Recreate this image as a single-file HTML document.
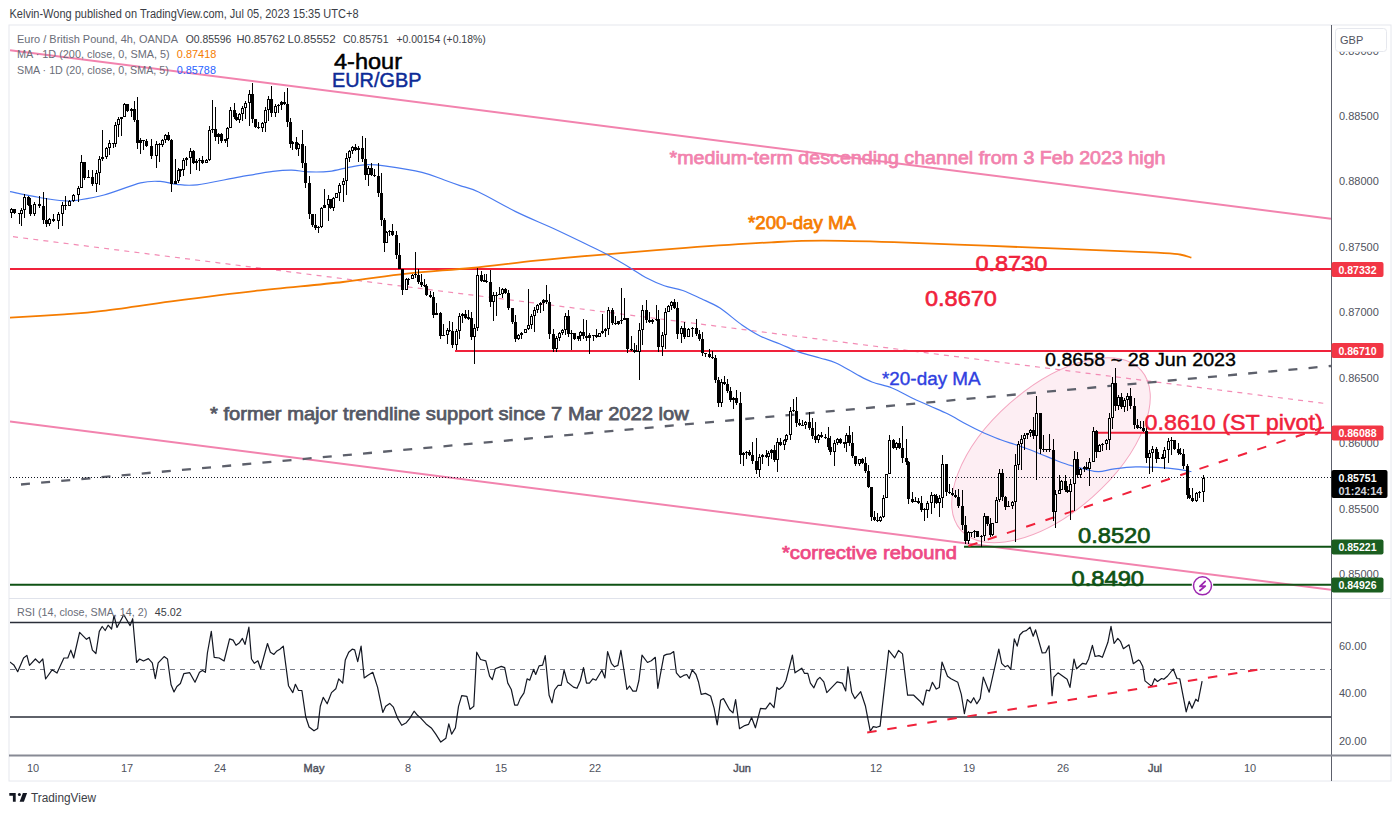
<!DOCTYPE html><html><head><meta charset="utf-8"><style>html,body{margin:0;padding:0;background:#fff;width:1400px;height:814px;overflow:hidden}svg{display:block}text{font-family:"Liberation Sans",sans-serif}</style></head><body>
<svg width="1400" height="814" viewBox="0 0 1400 814">
<rect width="1400" height="814" fill="#fff"/>
<text x="9.5" y="17.5" font-size="12" fill="#3a3d45" font-weight="normal" text-anchor="start" textLength="349" lengthAdjust="spacingAndGlyphs">Kelvin-Wong published on TradingView.com, Jul 05, 2023 15:35 UTC+8</text>
<rect x="9" y="25" width="1382" height="756" fill="none" stroke="#e6e8ee" stroke-width="1"/>
<line x1="9" y1="598.5" x2="1391" y2="598.5" stroke="#e0e3eb" stroke-width="1.2"/>
<defs><clipPath id="mp"><rect x="10" y="26" width="1321" height="571"/></clipPath><clipPath id="rp"><rect x="10" y="599" width="1321" height="156"/></clipPath></defs>
<g clip-path="url(#mp)">
<ellipse cx="1051" cy="450.3" rx="120.5" ry="62.5" transform="rotate(-41.5 1051 450.3)" fill="#fdeef3" stroke="#f4a6c0" stroke-width="1"/>
<line x1="10" y1="50.2" x2="1331" y2="218.8" stroke="#f283ae" stroke-width="2"/>
<line x1="10" y1="421.4" x2="1331" y2="589.8" stroke="#f283ae" stroke-width="2"/>
<line x1="13" y1="236.7" x2="1326" y2="403.6" stroke="#f38cb5" stroke-width="1.2" stroke-dasharray="5,5.2"/>
<line x1="21" y1="484.5" x2="1331" y2="366" stroke="#5d606b" stroke-width="2.3" stroke-dasharray="9,11.2"/>
<line x1="10" y1="269" x2="1331" y2="269" stroke="#f0223b" stroke-width="2"/>
<line x1="455" y1="350.9" x2="1331" y2="350.9" stroke="#f0223b" stroke-width="2"/>
<line x1="1096" y1="432.8" x2="1331" y2="432.8" stroke="#f0223b" stroke-width="2"/>
<line x1="964" y1="546.8" x2="1331" y2="546.8" stroke="#0f5214" stroke-width="2"/>
<line x1="10" y1="584.8" x2="1331" y2="584.8" stroke="#0f5214" stroke-width="2"/>
<line x1="10" y1="477.5" x2="1331" y2="477.5" stroke="#131722" stroke-width="1" stroke-dasharray="1,2"/>
<line x1="968.4" y1="546" x2="1324" y2="427.3" stroke="#f0223b" stroke-width="2" stroke-dasharray="9.5,10.8"/>
<path d="M9.4,317.7C18.6,317.1 48.7,315.4 64.3,314.3C79.9,313.2 85.1,313.0 102.9,310.9C120.8,308.8 145.7,304.8 171.4,301.4C197.1,298.0 228.4,293.9 257.0,290.7C285.6,287.5 318.0,284.9 343.0,282.0C368.0,279.1 385.6,275.9 407.0,273.6C428.4,271.3 449.9,270.1 471.4,268.0C492.8,265.9 514.3,262.9 535.7,260.7C557.1,258.5 575.0,256.9 600.0,254.8C625.0,252.7 657.1,250.0 685.7,247.9C714.3,245.8 748.5,243.5 771.4,242.3C794.3,241.1 801.5,240.6 822.9,240.6C844.3,240.6 872.9,241.5 900.0,242.3C927.1,243.2 957.1,244.6 985.7,245.7C1014.3,246.8 1042.9,247.9 1071.4,249.1C1100.0,250.2 1138.9,251.7 1157.0,252.6C1175.1,253.5 1174.3,253.7 1180.0,254.5C1185.7,255.3 1189.5,257.2 1191.4,257.7" fill="none" stroke="#f57c00" stroke-width="1.8"/>
<path d="M10.0,191.6C14.9,192.6 30.1,195.9 39.3,197.5C48.4,199.1 58.4,200.5 64.9,200.9C71.5,201.3 72.1,201.0 78.6,200.0C85.1,199.0 93.7,197.8 104.0,195.0C114.3,192.2 131.2,185.2 140.6,182.9C150.0,180.6 154.3,181.2 160.3,181.4C166.3,181.6 170.5,183.7 176.6,184.3C182.7,184.9 186.5,186.0 197.1,184.8C207.7,183.6 227.4,179.1 240.0,176.9C252.6,174.7 264.3,172.5 272.9,171.4C281.5,170.3 285.7,170.0 291.7,170.1C297.7,170.2 302.6,171.7 308.9,171.9C315.2,172.1 322.5,172.2 329.4,171.4C336.2,170.6 343.7,168.2 350.0,167.1C356.3,166.0 361.5,164.8 367.2,164.6C372.9,164.4 375.2,164.5 384.3,165.8C393.4,167.1 412.0,169.9 422.0,172.3C432.0,174.7 438.0,177.8 444.3,180.0C450.6,182.2 454.3,183.6 460.0,185.6C465.7,187.6 469.3,187.7 478.6,192.0C487.9,196.3 503.3,205.5 515.7,211.6C528.1,217.7 540.5,222.6 552.9,228.3C565.3,234.0 581.0,241.7 590.0,246.0C599.0,250.3 599.9,250.6 606.7,254.3C613.5,258.0 624.3,264.3 630.8,268.2C637.3,272.1 640.1,274.6 645.7,277.5C651.3,280.4 658.1,283.6 664.3,285.8C670.5,288.0 676.6,288.3 682.8,290.5C689.0,292.7 695.2,295.9 701.4,298.8C707.6,301.7 713.2,303.7 720.0,308.1C726.8,312.5 735.3,320.4 742.0,325.0C748.7,329.6 753.7,332.8 760.0,336.0C766.3,339.2 773.3,341.3 780.0,344.0C786.7,346.7 793.3,350.1 800.0,352.4C806.7,354.7 814.0,356.2 820.0,358.0C826.0,359.8 830.0,360.3 836.0,363.0C842.0,365.7 850.0,370.8 856.0,374.0C862.0,377.2 866.0,379.7 872.0,382.0C878.0,384.3 885.3,385.3 892.0,388.0C898.7,390.7 905.7,395.0 912.0,398.0C918.3,401.0 924.0,403.3 930.0,406.0C936.0,408.7 942.0,411.0 948.0,414.0C954.0,417.0 960.0,420.8 966.0,424.0C972.0,427.2 978.3,430.4 984.0,433.0C989.7,435.6 995.0,437.6 1000.0,439.5C1005.0,441.4 1009.5,442.7 1014.3,444.3C1019.1,445.9 1023.8,447.5 1028.6,449.3C1033.4,451.1 1038.2,453.1 1042.9,455.0C1047.6,456.9 1052.2,458.9 1057.0,460.7C1061.8,462.5 1066.6,464.3 1071.4,465.7C1076.2,467.1 1081.2,468.3 1085.7,469.3C1090.2,470.3 1093.8,471.8 1098.6,471.7C1103.4,471.6 1108.1,469.7 1114.3,468.9C1120.5,468.1 1128.6,467.1 1135.7,466.9C1142.8,466.6 1149.8,467.0 1157.0,467.4C1164.2,467.8 1172.9,468.6 1178.6,469.3C1184.3,470.0 1189.3,471.3 1191.4,471.7" fill="none" stroke="#4a7bf0" stroke-width="1.2"/>
<path d="M11.5,207.8V217.6M14.5,208.7V213.7M19.5,212.7V223.5M21.5,207.8V225.5M24.5,194.0V217.6M28.5,196.0V205.8M30.5,198.0V215.6M34.5,201.9V215.6M39.5,196.0V207.8M43.5,192.0V223.5M46.5,198.0V227.4M49.5,217.6V226.4M53.5,213.7V221.5M58.5,211.7V229.4M62.5,201.9V225.5M65.5,196.0V209.7M69.5,199.9V205.8M73.5,194.0V201.9M78.5,186.0V202.0M81.5,154.7V188.0M84.5,161.6V180.2M88.5,170.4V178.3M92.5,170.4V186.1M96.5,170.4V192.0M99.5,155.7V185.2M102.5,130.0V160.6M106.5,146.8V158.6M109.5,140.0V154.7M113.5,142.9V147.8M115.5,122.3V146.8M118.5,117.0V137.0M121.5,117.3V136.0M124.5,102.6V117.3M127.5,103.6V112.4M131.5,107.5V117.3M134.5,100.6V122.3M137.5,96.7V148.8M140.5,138.0V153.7M143.5,140.0V150.0M146.5,139.0V146.8M151.5,139.0V158.6M156.5,140.6V168.0M159.5,142.6V162.2M162.5,138.6V146.5M165.5,133.7V142.6M168.5,131.7V140.6M171.5,138.6V191.7M175.5,159.0V183.8M178.5,168.0V182.8M180.5,169.1V177.0M183.5,158.0V176.0M186.5,157.3V166.1M190.5,147.5V174.0M193.5,150.4V164.2M196.5,159.3V170.1M199.5,158.3V171.1M202.5,156.3V164.2M206.5,159.0V163.0M209.5,125.8V161.0M212.5,100.0V132.7M215.5,107.0V140.6M218.5,132.7V143.5M221.5,132.7V142.6M225.5,138.6V142.6M227.5,126.8V146.5M230.5,107.0V127.8M234.5,103.0V119.0M236.5,113.0V121.0M239.5,113.0V122.9M242.5,106.0V121.0M245.5,101.0V119.0M249.5,89.5V125.8M252.5,82.6V122.9M255.5,119.0V127.8M258.5,121.9V128.8M262.5,122.0V131.7M265.5,107.2V131.7M268.5,96.4V121.0M271.5,85.6V117.0M275.5,104.2V117.0M278.5,104.2V113.0M281.5,101.3V110.1M284.5,92.4V105.0M287.5,87.5V126.8M290.5,118.0V147.5M292.5,140.6V150.4M296.5,136.7V150.4M298.5,142.6V156.3M302.5,129.8V168.0M305.5,145.5V187.8M309.5,176.0V219.0M312.5,214.0V227.0M315.5,214.0V230.0M318.5,226.0V233.0M321.5,206.5V228.0M324.5,188.8V207.5M328.5,194.7V221.0M330.5,198.6V209.4M333.5,196.7V211.4M336.5,192.7V197.6M339.5,183.0V200.6M343.5,178.0V201.6M346.5,153.4V194.7M349.5,149.5V162.0M352.5,145.5V154.4M355.5,143.6V150.5M358.5,145.5V162.0M362.5,135.7V162.0M365.5,137.7V180.0M368.5,166.0V185.8M371.5,163.2V176.0M374.5,169.1V177.0M378.5,163.0V196.7M381.5,173.0V226.0M384.5,218.0V251.7M386.5,231.0V242.8M389.5,230.0V236.0M392.5,224.0V236.0M396.5,231.0V258.6M399.5,243.0V269.4M402.5,268.5V295.0M406.5,278.0V290.0M408.5,278.3V285.2M412.5,274.0V279.0M415.5,251.8V278.0M418.5,268.5V284.0M421.5,274.0V287.0M424.5,279.3V287.2M426.5,284.0V296.0M430.5,291.1V298.0M433.5,292.0V317.6M436.5,302.9V314.7M440.5,311.7V339.0M443.5,323.5V336.3M447.5,327.5V344.0M449.5,320.6V332.4M452.5,321.6V348.0M456.5,328.5V350.0M459.5,312.7V339.0M462.5,312.7V322.6M465.5,309.8V318.6M468.5,309.8V319.6M471.5,311.7V340.0M474.5,323.5V363.8M477.5,267.5V331.4M481.5,271.4V282.0M484.5,274.4V282.3M486.5,274.4V283.2M490.5,269.5V306.8M493.5,292.0V320.6M496.5,292.0V315.7M499.5,287.0V295.0M502.5,288.2V298.0M505.5,288.2V294.0M508.5,290.0V309.8M512.5,307.8V323.5M515.5,314.7V342.0M518.5,334.3V340.2M521.5,332.4V339.3M525.5,328.5V333.4M528.5,289.0V330.4M531.5,313.7V328.5M534.5,306.8V332.4M537.5,303.9V312.7M540.5,301.9V312.7M543.5,299.0V310.8M546.5,285.0V304.0M549.5,294.0V339.0M553.5,329.4V352.0M556.5,336.3V352.0M559.5,331.7V340.6M562.5,328.8V334.7M565.5,313.0V334.7M568.5,310.0V336.7M571.5,329.8V350.4M574.5,332.7V339.6M578.5,335.7V340.6M580.5,330.8V340.6M583.5,319.0V338.6M586.5,320.0V340.6M589.5,332.7V354.3M593.5,334.7V340.6M596.5,328.8V337.6M599.5,332.7V336.7M602.5,314.0V333.7M605.5,327.8V336.7M608.5,307.0V334.7M612.5,308.0V325.0M615.5,316.0V324.9M618.5,320.9V324.9M621.5,287.5V323.9M624.5,298.3V320.0M627.5,318.0V353.4M631.5,335.7V351.4M634.5,342.6V353.4M636.5,344.5V352.4M639.5,322.9V379.9M642.5,305.0V344.5M646.5,300.0V323.0M649.5,312.1V322.9M652.5,319.0V323.9M656.5,305.0V321.0M658.5,310.0V352.4M662.5,331.7V356.0M665.5,308.0V348.5M668.5,305.2V312.1M671.5,301.0V310.0M674.5,299.3V309.0M677.5,302.3V338.6M681.5,325.8V342.6M684.5,321.9V338.6M688.5,327.8V336.7M692.5,326.8V336.7M696.5,319.0V335.7M699.5,329.8V340.6M702.5,331.8V356.3M705.5,353.4V357.3M709.5,348.5V358.3M712.5,350.5V359.3M715.5,355.4V383.0M718.5,377.0V406.5M721.5,379.0V406.5M724.5,376.0V384.9M727.5,379.0V392.7M730.5,386.8V401.6M733.5,396.7V409.4M736.5,389.8V404.5M740.5,391.7V463.5M743.5,451.7V465.5M746.5,450.7V458.6M749.5,449.7V455.6M752.5,441.9V463.5M756.5,438.0V474.3M759.5,453.7V477.0M762.5,453.7V463.5M766.5,449.7V457.6M768.5,450.7V466.4M771.5,448.7V458.6M774.5,444.8V461.5M777.5,438.0V472.3M780.5,438.0V445.8M784.5,438.9V449.7M786.5,434.0V441.9M790.5,406.5V440.0M793.5,398.6V412.4M796.5,396.7V427.0M799.5,419.3V426.1M802.5,420.2V426.1M805.5,421.2V429.1M809.5,412.4V430.0M812.5,418.3V438.9M815.5,422.2V442.9M818.5,434.0V442.9M821.5,432.0V437.9M825.5,434.0V438.9M828.5,427.0V449.7M830.5,436.0V454.6M834.5,440.0V465.5M837.5,437.9V444.8M840.5,437.9V443.8M844.5,441.9V447.8M846.5,433.0V451.7M849.5,426.0V445.8M852.5,432.0V457.6M855.5,455.6V465.5M859.5,458.6V465.5M862.5,457.8V463.7M865.5,456.8V472.6M868.5,464.7V488.3M871.5,487.3V520.7M874.5,510.9V520.7M877.5,512.9V521.7M880.5,515.8V521.7M883.5,495.0V517.8M886.5,473.5V498.0M889.5,435.0V473.5M893.5,439.0V449.0M896.5,442.1V450.0M899.5,438.2V449.0M902.5,426.4V462.7M906.5,439.0V464.7M908.5,460.8V504.0M912.5,492.2V503.0M915.5,497.1V502.0M918.5,498.1V504.0M921.5,496.0V511.9M924.5,508.0V520.7M927.5,501.1V517.8M931.5,492.0V513.8M934.5,494.2V507.9M936.5,494.2V504.0M939.5,495.0V516.8M942.5,454.9V508.0M946.5,463.7V496.0M949.5,484.3V494.2M952.5,488.3V496.1M955.5,490.2V498.1M958.5,489.0V508.0M962.5,490.0V529.6M965.5,515.8V544.3M968.5,530.5V544.3M971.5,531.5V537.4M974.5,529.6V538.4M977.5,530.5V537.4M981.5,534.5V547.0M984.5,512.8V541.4M987.5,515.8V525.6M990.5,517.8V537.4M992.5,522.7V536.4M996.5,497.0V523.0M999.5,468.6V502.0M1002.5,468.6V501.0M1005.5,495.6V510.4M1008.5,500.5V506.7M1012.5,501.2V508.5M1015.5,454.3V542.3M1018.5,440.6V470.0M1021.5,434.7V470.0M1024.5,432.7V450.4M1027.5,432.7V438.6M1030.5,428.8V436.7M1033.5,417.0V438.6M1036.5,396.4V479.7M1040.5,413.0V454.3M1043.5,434.7V452.4M1046.5,448.5V452.4M1049.5,433.7V452.4M1053.5,438.6V521.4M1055.5,489.5V527.6M1059.5,474.7V494.4M1061.5,479.7V489.5M1065.5,474.7V492.0M1067.5,485.8V493.2M1070.5,479.0V519.6M1074.5,451.4V511.4M1077.5,452.4V478.0M1080.5,468.1V478.0M1084.5,466.1V472.0M1086.5,462.2V470.0M1089.5,458.3V485.8M1093.5,426.8V462.2M1096.5,429.8V458.3M1099.5,443.5V452.4M1102.5,442.6V451.4M1106.5,438.6V450.4M1109.5,413.0V450.4M1112.5,376.7V428.8M1115.5,367.9V411.0M1118.5,395.4V410.0M1121.5,393.4V409.1M1124.5,398.3V412.1M1127.5,393.4V411.0M1130.5,387.5V409.0M1134.5,398.3V428.8M1137.5,419.0V428.8M1140.5,421.0V428.8M1143.5,421.4V431.7M1146.5,422.0V463.4M1149.5,450.0V474.4M1152.5,445.7V471.5M1156.5,447.0V463.4M1158.5,452.3V458.9M1162.5,453.8V458.2M1164.5,447.0V469.2M1168.5,438.3V463.4M1171.5,436.8V454.5M1174.5,439.8V450.0M1178.5,442.7V454.5M1180.5,447.9V454.5M1183.5,448.6V468.5M1187.5,464.0V498.7M1189.5,487.7V499.4M1192.5,488.4V502.4M1196.5,492.0V501.7M1199.5,491.3V498.0M1203.5,475.0V502.4" stroke="#000" stroke-width="1" fill="none" shape-rendering="crispEdges"/>
<path d="M10,209.0h3V212.7h-3ZM13,209.0h3V213.1h-3ZM18,212.9h3V214.1h-3ZM20,209.9h3V214.0h-3ZM23,196.8h3V209.9h-3ZM27,196.8h3V204.6h-3ZM29,204.6h3V213.5h-3ZM33,203.5h3V213.5h-3ZM38,203.5h3V206.4h-3ZM42,206.4h3V219.7h-3ZM45,219.7h3V223.9h-3ZM48,218.7h3V223.9h-3ZM52,218.7h3V220.6h-3ZM57,213.8h3V220.6h-3ZM61,204.7h3V213.8h-3ZM64,204.7h3V205.9h-3ZM68,200.6h3V205.8h-3ZM72,194.9h3V200.6h-3ZM77,187.9h3V194.9h-3ZM80,161.6h3V187.9h-3ZM83,161.6h3V178.0h-3ZM87,177.1h3V178.3h-3ZM91,177.4h3V184.2h-3ZM95,173.0h3V184.2h-3ZM98,159.2h3V173.0h-3ZM101,156.9h3V159.2h-3ZM105,148.2h3V156.9h-3ZM108,142.9h3V148.2h-3ZM112,142.6h3V143.8h-3ZM114,125.2h3V143.5h-3ZM117,119.4h3V125.2h-3ZM120,117.3h3V119.4h-3ZM123,104.4h3V117.3h-3ZM126,104.4h3V111.3h-3ZM130,108.7h3V111.3h-3ZM133,108.7h3V119.7h-3ZM136,119.7h3V142.5h-3ZM139,140.0h3V142.5h-3ZM142,140.0h3V141.2h-3ZM145,141.2h3V145.9h-3ZM150,145.9h3V156.2h-3ZM155,143.9h3V156.2h-3ZM158,143.8h3V145.0h-3ZM161,139.5h3V145.0h-3ZM164,134.8h3V139.5h-3ZM167,134.8h3V139.5h-3ZM170,139.5h3V183.8h-3ZM174,180.8h3V183.8h-3ZM177,169.8h3V180.8h-3ZM179,169.3h3V170.5h-3ZM182,160.2h3V170.0h-3ZM185,158.4h3V160.2h-3ZM189,150.7h3V158.4h-3ZM192,150.7h3V162.5h-3ZM195,160.6h3V162.5h-3ZM198,159.6h3V160.8h-3ZM201,159.8h3V163.0h-3ZM205,159.5h3V163.0h-3ZM208,130.0h3V159.5h-3ZM211,128.8h3V130.0h-3ZM214,128.8h3V136.6h-3ZM217,134.0h3V136.6h-3ZM220,134.0h3V141.4h-3ZM224,139.1h3V141.4h-3ZM226,127.8h3V139.1h-3ZM229,109.5h3V127.8h-3ZM233,109.5h3V117.1h-3ZM235,117.1h3V120.0h-3ZM238,114.2h3V120.0h-3ZM241,107.8h3V114.2h-3ZM244,103.2h3V107.8h-3ZM248,93.9h3V103.2h-3ZM251,93.9h3V119.0h-3ZM254,119.0h3V126.7h-3ZM257,126.7h3V128.0h-3ZM261,123.2h3V128.0h-3ZM264,110.1h3V123.2h-3ZM267,99.4h3V110.1h-3ZM270,99.4h3V113.2h-3ZM274,105.7h3V113.2h-3ZM277,104.9h3V106.1h-3ZM280,102.4h3V105.3h-3ZM283,102.3h3V103.5h-3ZM286,103.5h3V122.1h-3ZM289,122.1h3V144.0h-3ZM291,141.8h3V144.0h-3ZM295,141.8h3V148.8h-3ZM297,144.2h3V148.8h-3ZM301,144.2h3V163.4h-3ZM304,163.4h3V182.7h-3ZM308,182.7h3V214.0h-3ZM311,214.0h3V225.4h-3ZM314,225.4h3V228.1h-3ZM317,226.8h3V228.1h-3ZM320,207.5h3V226.8h-3ZM323,205.3h3V207.5h-3ZM327,198.6h3V205.3h-3ZM329,198.6h3V208.1h-3ZM332,197.6h3V208.1h-3ZM335,193.3h3V197.6h-3ZM338,185.1h3V193.3h-3ZM342,180.8h3V185.1h-3ZM345,158.4h3V180.8h-3ZM348,151.0h3V158.4h-3ZM351,146.6h3V151.0h-3ZM354,146.6h3V149.7h-3ZM357,147.5h3V149.7h-3ZM361,147.5h3V158.8h-3ZM364,158.8h3V174.9h-3ZM367,168.4h3V174.9h-3ZM370,168.4h3V174.5h-3ZM373,174.5h3V176.1h-3ZM377,176.1h3V192.7h-3ZM380,192.7h3V219.6h-3ZM383,219.6h3V242.8h-3ZM385,232.4h3V242.8h-3ZM388,230.7h3V232.4h-3ZM391,230.7h3V234.6h-3ZM395,234.6h3V255.3h-3ZM398,255.3h3V268.5h-3ZM401,268.5h3V290.0h-3ZM405,279.4h3V290.0h-3ZM407,278.6h3V279.8h-3ZM411,274.6h3V279.0h-3ZM414,274.1h3V275.3h-3ZM417,274.9h3V282.1h-3ZM420,282.1h3V285.4h-3ZM423,285.2h3V286.4h-3ZM425,286.3h3V294.6h-3ZM429,294.6h3V297.2h-3ZM432,297.2h3V314.5h-3ZM435,313.3h3V314.5h-3ZM439,313.3h3V335.7h-3ZM442,334.6h3V335.8h-3ZM446,329.5h3V334.8h-3ZM448,329.5h3V331.0h-3ZM451,331.0h3V344.8h-3ZM455,331.1h3V344.8h-3ZM458,315.9h3V331.1h-3ZM461,313.9h3V315.9h-3ZM464,313.9h3V317.5h-3ZM467,317.4h3V318.6h-3ZM470,318.4h3V336.6h-3ZM473,328.3h3V336.6h-3ZM476,275.2h3V328.3h-3ZM480,275.2h3V280.7h-3ZM483,280.4h3V281.6h-3ZM485,281.1h3V282.3h-3ZM489,282.1h3V302.3h-3ZM492,295.4h3V302.3h-3ZM495,294.5h3V295.7h-3ZM498,293.8h3V295.0h-3ZM501,289.4h3V294.0h-3ZM504,289.4h3V293.3h-3ZM507,293.3h3V307.8h-3ZM511,307.8h3V321.6h-3ZM514,321.6h3V338.7h-3ZM517,335.0h3V338.7h-3ZM520,333.2h3V335.0h-3ZM524,329.1h3V333.2h-3ZM527,325.4h3V329.1h-3ZM530,315.5h3V325.4h-3ZM533,309.9h3V315.5h-3ZM536,305.0h3V309.9h-3ZM539,303.2h3V305.0h-3ZM542,300.4h3V303.2h-3ZM545,300.4h3V301.7h-3ZM548,301.7h3V333.6h-3ZM552,333.6h3V349.3h-3ZM555,338.2h3V349.3h-3ZM558,332.8h3V338.2h-3ZM561,329.5h3V332.8h-3ZM564,315.6h3V329.5h-3ZM567,315.6h3V333.5h-3ZM570,332.5h3V333.7h-3ZM573,332.7h3V338.8h-3ZM577,336.3h3V338.8h-3ZM579,332.0h3V336.3h-3ZM582,332.0h3V336.2h-3ZM585,336.2h3V338.1h-3ZM588,335.3h3V338.1h-3ZM592,334.8h3V336.0h-3ZM595,335.4h3V336.6h-3ZM598,333.2h3V336.5h-3ZM601,331.3h3V333.2h-3ZM604,328.9h3V331.3h-3ZM607,310.3h3V328.9h-3ZM611,310.3h3V323.0h-3ZM614,322.8h3V324.0h-3ZM617,321.4h3V323.8h-3ZM620,319.5h3V321.4h-3ZM623,318.0h3V319.5h-3ZM626,318.0h3V349.2h-3ZM630,348.7h3V349.9h-3ZM633,349.5h3V352.1h-3ZM635,351.2h3V352.4h-3ZM638,329.7h3V351.5h-3ZM641,309.7h3V329.7h-3ZM645,309.7h3V320.2h-3ZM648,320.2h3V321.6h-3ZM651,319.6h3V321.6h-3ZM655,318.7h3V319.9h-3ZM657,319.1h3V347.3h-3ZM661,334.6h3V347.3h-3ZM664,312.1h3V334.6h-3ZM667,306.0h3V312.1h-3ZM670,302.1h3V306.0h-3ZM673,302.1h3V307.8h-3ZM676,307.8h3V334.2h-3ZM680,327.8h3V334.2h-3ZM683,327.8h3V336.6h-3ZM687,328.9h3V336.6h-3ZM691,327.8h3V329.0h-3ZM695,328.0h3V333.7h-3ZM698,333.7h3V339.3h-3ZM701,339.3h3V353.4h-3ZM704,353.0h3V354.2h-3ZM708,353.9h3V357.1h-3ZM711,357.1h3V358.3h-3ZM714,358.2h3V379.7h-3ZM717,379.7h3V403.0h-3ZM720,382.3h3V403.0h-3ZM723,382.3h3V383.8h-3ZM726,383.8h3V391.1h-3ZM729,391.1h3V399.8h-3ZM732,398.2h3V399.8h-3ZM735,398.2h3V402.7h-3ZM739,402.7h3V454.9h-3ZM742,453.4h3V454.9h-3ZM745,451.6h3V453.4h-3ZM748,451.6h3V454.9h-3ZM751,454.9h3V460.9h-3ZM755,460.9h3V469.9h-3ZM758,456.5h3V469.9h-3ZM761,454.9h3V456.5h-3ZM765,454.9h3V456.7h-3ZM767,452.6h3V456.7h-3ZM770,449.9h3V452.6h-3ZM773,449.9h3V459.5h-3ZM776,442.1h3V459.5h-3ZM779,442.1h3V444.9h-3ZM783,440.2h3V444.9h-3ZM785,434.9h3V440.2h-3ZM789,410.5h3V434.9h-3ZM792,410.0h3V411.2h-3ZM795,410.7h3V423.4h-3ZM798,423.4h3V425.3h-3ZM801,424.7h3V425.9h-3ZM804,422.1h3V425.4h-3ZM808,422.1h3V427.9h-3ZM811,427.9h3V436.4h-3ZM814,436.4h3V440.4h-3ZM817,435.1h3V440.4h-3ZM820,435.1h3V437.2h-3ZM824,437.2h3V438.4h-3ZM827,438.3h3V447.0h-3ZM829,447.0h3V452.4h-3ZM833,443.1h3V452.4h-3ZM836,438.7h3V443.1h-3ZM839,438.7h3V443.1h-3ZM843,442.2h3V443.5h-3ZM845,435.2h3V442.6h-3ZM848,435.2h3V443.4h-3ZM851,443.4h3V455.6h-3ZM854,455.6h3V464.3h-3ZM858,459.4h3V464.3h-3ZM861,459.4h3V463.0h-3ZM864,463.0h3V470.7h-3ZM867,470.7h3V487.3h-3ZM870,487.3h3V516.7h-3ZM873,516.7h3V519.5h-3ZM876,519.5h3V520.7h-3ZM879,516.5h3V520.6h-3ZM882,497.7h3V516.5h-3ZM885,473.5h3V497.7h-3ZM888,439.6h3V473.5h-3ZM892,439.6h3V447.8h-3ZM895,443.0h3V447.8h-3ZM898,443.0h3V447.7h-3ZM901,447.7h3V458.3h-3ZM905,458.3h3V461.6h-3ZM907,461.6h3V498.8h-3ZM911,498.8h3V501.7h-3ZM914,501.0h3V502.2h-3ZM917,501.4h3V503.3h-3ZM920,503.3h3V510.0h-3ZM923,509.2h3V510.4h-3ZM926,503.1h3V509.5h-3ZM930,494.6h3V503.1h-3ZM933,494.6h3V495.8h-3ZM935,495.8h3V502.8h-3ZM938,497.6h3V502.8h-3ZM941,463.7h3V497.6h-3ZM945,463.7h3V492.1h-3ZM948,492.0h3V493.2h-3ZM951,493.0h3V495.2h-3ZM954,495.2h3V497.2h-3ZM957,497.2h3V505.7h-3ZM961,505.7h3V524.8h-3ZM964,524.8h3V540.9h-3ZM967,532.2h3V540.9h-3ZM970,531.6h3V532.8h-3ZM973,530.7h3V532.2h-3ZM976,530.7h3V536.6h-3ZM980,535.7h3V536.9h-3ZM983,516.2h3V536.0h-3ZM986,516.2h3V524.4h-3ZM989,524.4h3V535.0h-3ZM991,523.0h3V535.0h-3ZM995,500.1h3V523.0h-3ZM998,472.6h3V500.1h-3ZM1001,472.6h3V497.1h-3ZM1004,497.1h3V506.7h-3ZM1007,505.7h3V506.9h-3ZM1011,502.1h3V506.0h-3ZM1014,464.9h3V502.1h-3ZM1017,444.1h3V464.9h-3ZM1020,438.9h3V444.1h-3ZM1023,434.8h3V438.9h-3ZM1026,433.4h3V434.8h-3ZM1029,429.7h3V433.4h-3ZM1032,429.7h3V436.0h-3ZM1035,413.0h3V436.0h-3ZM1039,413.0h3V449.3h-3ZM1042,449.2h3V450.4h-3ZM1045,449.0h3V450.3h-3ZM1048,449.0h3V450.2h-3ZM1052,450.2h3V511.5h-3ZM1054,494.1h3V511.5h-3ZM1058,489.5h3V494.1h-3ZM1060,480.9h3V489.5h-3ZM1064,480.9h3V489.9h-3ZM1066,489.9h3V492.3h-3ZM1069,483.9h3V492.3h-3ZM1073,458.6h3V483.9h-3ZM1076,458.6h3V474.9h-3ZM1079,469.3h3V474.9h-3ZM1083,466.8h3V469.3h-3ZM1085,466.8h3V469.1h-3ZM1088,461.6h3V469.1h-3ZM1092,431.0h3V461.6h-3ZM1095,431.0h3V452.4h-3ZM1098,444.6h3V452.4h-3ZM1101,443.5h3V444.7h-3ZM1105,440.0h3V443.7h-3ZM1108,417.5h3V440.0h-3ZM1111,383.0h3V417.5h-3ZM1114,383.0h3V405.8h-3ZM1117,397.2h3V405.8h-3ZM1120,397.2h3V407.2h-3ZM1123,400.0h3V407.2h-3ZM1126,395.5h3V400.0h-3ZM1129,395.5h3V406.4h-3ZM1133,406.4h3V425.1h-3ZM1136,425.1h3V427.6h-3ZM1139,427.1h3V428.3h-3ZM1142,427.9h3V430.5h-3ZM1145,430.5h3V458.4h-3ZM1148,452.9h3V458.4h-3ZM1151,448.8h3V452.9h-3ZM1155,448.8h3V458.9h-3ZM1157,457.9h3V459.1h-3ZM1161,457.3h3V458.5h-3ZM1163,449.7h3V457.7h-3ZM1167,441.3h3V449.7h-3ZM1170,439.8h3V441.3h-3ZM1173,439.8h3V448.8h-3ZM1177,448.8h3V453.1h-3ZM1179,452.8h3V454.0h-3ZM1182,453.7h3V466.1h-3ZM1186,466.1h3V494.5h-3ZM1188,494.5h3V498.0h-3ZM1191,498.0h3V500.7h-3ZM1195,493.2h3V500.7h-3ZM1198,492.0h3V493.2h-3ZM1202,478.3h3V492.1h-3Z" fill="#000" shape-rendering="crispEdges"/>
<path d="M11,210.0h1V211.7h-1ZM21,210.9h1V213.0h-1ZM24,197.8h1V208.9h-1ZM34,204.5h1V212.5h-1ZM49,219.7h1V222.9h-1ZM58,214.8h1V219.6h-1ZM62,205.7h1V212.8h-1ZM69,201.6h1V204.8h-1ZM73,195.9h1V199.6h-1ZM78,188.9h1V193.9h-1ZM81,162.6h1V186.9h-1ZM96,174.0h1V183.2h-1ZM99,160.2h1V172.0h-1ZM106,149.2h1V155.9h-1ZM109,143.9h1V147.2h-1ZM115,126.2h1V142.5h-1ZM118,120.4h1V124.2h-1ZM124,105.4h1V116.3h-1ZM156,144.9h1V155.2h-1ZM162,140.5h1V144.0h-1ZM165,135.8h1V138.5h-1ZM178,170.8h1V179.8h-1ZM183,161.2h1V169.0h-1ZM190,151.7h1V157.4h-1ZM206,160.5h1V162.0h-1ZM209,131.0h1V158.5h-1ZM227,128.8h1V138.1h-1ZM230,110.5h1V126.8h-1ZM239,115.2h1V119.0h-1ZM242,108.8h1V113.2h-1ZM245,104.2h1V106.8h-1ZM249,94.9h1V102.2h-1ZM262,124.2h1V127.0h-1ZM265,111.1h1V122.2h-1ZM268,100.4h1V109.1h-1ZM275,106.7h1V112.2h-1ZM298,145.2h1V147.8h-1ZM321,208.5h1V225.8h-1ZM328,199.6h1V204.3h-1ZM333,198.6h1V207.1h-1ZM336,194.3h1V196.6h-1ZM339,186.1h1V192.3h-1ZM343,181.8h1V184.1h-1ZM346,159.4h1V179.8h-1ZM349,152.0h1V157.4h-1ZM352,147.6h1V150.0h-1ZM368,169.4h1V173.9h-1ZM386,233.4h1V241.8h-1ZM406,280.4h1V289.0h-1ZM412,275.6h1V278.0h-1ZM447,330.5h1V333.8h-1ZM456,332.1h1V343.8h-1ZM459,316.9h1V330.1h-1ZM474,329.3h1V335.6h-1ZM477,276.2h1V327.3h-1ZM493,296.4h1V301.3h-1ZM502,290.4h1V293.0h-1ZM518,336.0h1V337.7h-1ZM525,330.1h1V332.2h-1ZM528,326.4h1V328.1h-1ZM531,316.5h1V324.4h-1ZM534,310.9h1V314.5h-1ZM537,306.0h1V308.9h-1ZM556,339.2h1V348.3h-1ZM559,333.8h1V337.2h-1ZM562,330.5h1V331.8h-1ZM565,316.6h1V328.5h-1ZM580,333.0h1V335.3h-1ZM599,334.2h1V335.5h-1ZM608,311.3h1V327.9h-1ZM639,330.7h1V350.5h-1ZM642,310.7h1V328.7h-1ZM662,335.6h1V346.3h-1ZM665,313.1h1V333.6h-1ZM668,307.0h1V311.1h-1ZM671,303.1h1V305.0h-1ZM681,328.8h1V333.2h-1ZM688,329.9h1V335.6h-1ZM721,383.3h1V402.0h-1ZM759,457.5h1V468.9h-1ZM768,453.6h1V455.7h-1ZM777,443.1h1V458.5h-1ZM784,441.2h1V443.9h-1ZM786,435.9h1V439.2h-1ZM790,411.5h1V433.9h-1ZM805,423.1h1V424.4h-1ZM818,436.1h1V439.4h-1ZM834,444.1h1V451.4h-1ZM837,439.7h1V442.1h-1ZM846,436.2h1V441.6h-1ZM859,460.4h1V463.3h-1ZM880,517.5h1V519.6h-1ZM883,498.7h1V515.5h-1ZM886,474.5h1V496.7h-1ZM889,440.6h1V472.5h-1ZM896,444.0h1V446.8h-1ZM927,504.1h1V508.5h-1ZM931,495.6h1V502.1h-1ZM939,498.6h1V501.8h-1ZM942,464.7h1V496.6h-1ZM968,533.2h1V539.9h-1ZM984,517.2h1V535.0h-1ZM992,524.0h1V534.0h-1ZM996,501.1h1V522.0h-1ZM999,473.6h1V499.1h-1ZM1012,503.1h1V505.0h-1ZM1015,465.9h1V501.1h-1ZM1018,445.1h1V463.9h-1ZM1021,439.9h1V443.1h-1ZM1024,435.8h1V437.9h-1ZM1030,430.7h1V432.4h-1ZM1036,414.0h1V435.0h-1ZM1055,495.1h1V510.5h-1ZM1059,490.5h1V493.1h-1ZM1061,481.9h1V488.5h-1ZM1070,484.9h1V491.3h-1ZM1074,459.6h1V482.9h-1ZM1080,470.3h1V473.9h-1ZM1089,462.6h1V468.1h-1ZM1093,432.0h1V460.6h-1ZM1099,445.6h1V451.4h-1ZM1106,441.0h1V442.7h-1ZM1109,418.5h1V439.0h-1ZM1112,384.0h1V416.5h-1ZM1118,398.2h1V404.8h-1ZM1124,401.0h1V406.2h-1ZM1127,396.5h1V399.0h-1ZM1149,453.9h1V457.4h-1ZM1152,449.8h1V451.9h-1ZM1164,450.7h1V456.7h-1ZM1168,442.3h1V448.7h-1ZM1196,494.2h1V499.7h-1ZM1203,479.3h1V491.1h-1Z" fill="#fff" shape-rendering="crispEdges"/>
</g>
<circle cx="1202.5" cy="585.8" r="10.8" fill="#fff"/>
<circle cx="1202.5" cy="585.8" r="9" fill="#fff" stroke="#9c27b0" stroke-width="1.5"/>
<path d="M1205.2,581.4 L1199.9,586.3 L1205.3,586.1 L1199.9,590.5" fill="none" stroke="#9c27b0" stroke-width="1.7" stroke-linejoin="round" stroke-linecap="round"/>
<g clip-path="url(#rp)">
<line x1="10" y1="622.5" x2="1331" y2="622.5" stroke="#2a2e39" stroke-width="1.5"/>
<line x1="10" y1="717" x2="1331" y2="717" stroke="#2a2e39" stroke-width="1.5"/>
<line x1="10" y1="669.5" x2="1331" y2="669.5" stroke="#787b86" stroke-width="1" stroke-dasharray="5,5"/>
<polyline points="9.8,661.9 13.8,664.9 17.7,671.7 23.6,658.0 26.9,655.4 29.5,665.3 35.4,659.0 39.3,662.9 42.8,659.0 45.6,679.0 52.1,669.8 57.0,673.1 63.9,658.0 67.8,658.0 70.8,650.1 73.7,658.0 79.6,632.4 86.5,639.3 89.4,637.3 92.4,650.1 95.9,653.5 99.3,631.4 102.2,626.5 105.2,630.5 108.1,625.2 111.6,629.0 114.0,615.7 117.0,627.5 123.8,614.7 130.1,625.6 132.7,618.7 136.6,662.5 139.6,659.0 143.5,661.0 148.4,658.6 152.3,662.9 155.3,678.6 158.2,662.9 164.1,656.6 167.5,659.0 171.0,684.5 174.0,692.0 176.9,686.5 180.4,683.5 183.8,673.7 189.7,672.7 195.0,682.2 199.5,672.3 202.5,670.4 205.4,672.3 207.4,653.0 211.3,631.4 214.2,657.4 219.2,658.0 224.1,661.0 229.6,638.9 233.1,640.1 236.0,645.3 239.5,642.7 242.4,638.4 245.1,644.4 248.9,627.2 251.5,659.0 254.4,663.3 257.9,660.8 260.6,668.8 267.5,643.5 270.4,652.2 273.9,654.4 276.5,651.3 279.9,649.2 283.3,646.1 288.5,685.7 292.8,692.6 295.4,684.3 298.5,690.5 301.9,690.5 305.7,716.7 309.1,727.0 314.0,730.8 317.7,728.4 320.3,706.3 323.2,697.4 327.2,703.8 331.5,692.6 335.8,688.8 338.7,678.8 342.7,683.1 345.3,659.9 348.7,652.2 352.2,649.2 354.7,649.9 357.7,661.6 361.1,646.1 364.2,678.0 367.6,675.4 372.8,672.3 377.6,687.4 382.8,712.4 385.7,706.3 389.7,703.4 393.4,707.2 397.7,718.4 401.7,725.3 406.3,722.7 409.8,718.4 414.1,711.2 417.5,715.3 421.0,718.4 426.1,723.9 431.3,727.9 435.6,733.9 440.8,742.1 445.9,738.2 448.8,723.9 451.6,734.2 455.4,727.9 458.5,706.3 461.7,695.7 466.9,696.4 470.0,709.4 473.8,706.3 476.7,652.2 480.6,659.5 485.8,660.8 489.6,676.2 492.3,679.7 495.3,668.8 501.3,666.4 504.7,667.6 507.8,683.1 511.3,689.5 514.7,705.1 517.6,705.1 520.2,698.6 524.0,692.9 527.1,678.8 529.7,680.2 533.6,669.4 535.7,674.5 539.1,665.9 542.6,665.1 545.2,655.6 549.1,695.2 552.0,702.9 554.6,690.0 558.1,685.4 561.2,685.4 564.1,670.2 567.5,682.3 573.5,687.1 577.0,688.3 580.4,680.5 583.5,667.6 586.5,683.1 589.4,683.1 592.8,678.8 595.9,680.2 601.9,670.2 604.9,678.0 607.6,651.6 611.4,663.3 614.5,666.8 617.9,665.4 620.9,650.4 626.9,689.5 629.5,686.0 632.9,691.2 636.3,691.2 638.9,680.5 642.0,655.1 647.5,662.5 651.3,660.8 655.3,657.3 657.8,688.3 663.9,655.6 666.5,654.4 670.2,653.9 673.7,651.6 676.4,672.8 680.2,677.4 683.7,675.4 686.8,674.5 689.2,678.5 692.2,669.9 696.0,674.5 698.6,682.3 701.2,694.3 705.5,693.4 710.6,696.0 714.1,708.1 717.2,724.9 720.6,700.3 723.5,698.6 729.6,709.8 733.0,712.9 735.6,699.5 739.5,728.7 744.7,725.6 748.5,724.4 751.6,717.5 755.4,727.8 760.5,708.4 765.7,708.9 770.0,702.9 774.0,707.7 776.9,687.4 779.1,689.5 782.9,686.6 786.0,680.5 792.4,655.1 795.0,672.8 801.8,668.2 804.4,673.3 807.8,673.3 810.4,683.1 813.9,687.8 817.3,679.7 819.9,677.4 823.8,681.9 826.8,692.6 837.1,681.9 842.3,683.1 845.7,690.9 847.9,666.8 851.7,692.2 854.8,698.6 860.7,691.7 865.5,706.3 870.3,731.3 873.2,726.6 876.7,727.3 880.1,726.1 888.7,650.4 894.7,657.8 898.5,650.4 902.5,653.9 907.6,695.2 913.7,695.2 920.0,701.2 923.1,705.0 926.5,690.0 929.5,690.9 932.4,682.3 936.3,689.1 939.3,687.4 942.0,662.0 947.5,676.2 951.0,678.8 957.8,682.3 961.3,694.3 964.4,713.6 967.3,699.5 970.8,702.9 973.7,697.7 976.8,703.8 980.2,698.6 983.3,677.1 989.2,692.2 998.8,649.2 1001.7,663.3 1005.2,666.8 1007.7,665.4 1010.8,669.4 1014.3,638.9 1017.2,646.1 1019.8,635.0 1023.2,631.5 1026.3,630.6 1030.1,627.2 1033.2,636.2 1035.6,629.8 1042.2,653.0 1045.6,652.7 1049.0,645.8 1052.1,695.7 1053.9,677.1 1058.0,672.8 1067.1,679.2 1070.0,687.4 1074.0,659.0 1076.6,668.8 1082.6,663.3 1086.0,664.2 1088.6,659.0 1092.4,645.3 1095.1,656.5 1098.9,655.6 1102.4,657.3 1107.9,642.3 1111.0,626.3 1114.1,643.5 1117.8,638.4 1120.4,641.3 1123.4,648.7 1129.0,644.8 1133.3,663.7 1138.5,659.9 1140.0,661.0 1142.8,666.5 1145.0,680.9 1151.6,686.4 1154.6,678.7 1157.5,681.5 1161.6,678.5 1163.8,679.3 1167.6,676.0 1173.2,669.0 1177.0,678.5 1179.8,678.9 1186.2,711.9 1189.2,701.4 1192.0,708.3 1195.8,699.2 1198.1,701.4 1202.1,681.1" fill="none" stroke="#131722" stroke-width="1.2" stroke-linejoin="round"/>
<line x1="867.2" y1="732.5" x2="1262" y2="669" stroke="#f0223b" stroke-width="2" stroke-dasharray="9.5,10.8"/>
</g>
<line x1="1331.5" y1="25" x2="1331.5" y2="781" stroke="#5d606b" stroke-width="1"/>
<line x1="9" y1="755.5" x2="1391" y2="755.5" stroke="#878a94" stroke-width="2"/>
<text x="1339" y="54.5" font-size="11" fill="#50535e" font-weight="normal" text-anchor="start">0.89000</text>
<text x="1339" y="119.5" font-size="11" fill="#50535e" font-weight="normal" text-anchor="start">0.88500</text>
<text x="1339" y="185" font-size="11" fill="#50535e" font-weight="normal" text-anchor="start">0.88000</text>
<text x="1339" y="250.6" font-size="11" fill="#50535e" font-weight="normal" text-anchor="start">0.87500</text>
<text x="1339" y="316.1" font-size="11" fill="#50535e" font-weight="normal" text-anchor="start">0.87000</text>
<text x="1339" y="381.7" font-size="11" fill="#50535e" font-weight="normal" text-anchor="start">0.86500</text>
<text x="1339" y="447.2" font-size="11" fill="#50535e" font-weight="normal" text-anchor="start">0.86000</text>
<text x="1339" y="512.8" font-size="11" fill="#50535e" font-weight="normal" text-anchor="start">0.85500</text>
<text x="1339" y="578.3" font-size="11" fill="#50535e" font-weight="normal" text-anchor="start">0.85000</text>
<text x="1339" y="649.5" font-size="11" fill="#50535e" font-weight="normal" text-anchor="start">60.00</text>
<text x="1339" y="697" font-size="11" fill="#50535e" font-weight="normal" text-anchor="start">40.00</text>
<text x="1339" y="744.5" font-size="11" fill="#50535e" font-weight="normal" text-anchor="start">20.00</text>
<rect x="1335.5" y="28.5" width="51" height="23" rx="3" fill="#fff" stroke="#e6e8ee"/>
<text x="1340" y="44" font-size="11" fill="#50535e" font-weight="normal" text-anchor="start">GBP</text>
<rect x="1331.5" y="262.0" width="52" height="15" rx="2" fill="#f23645"/>
<text x="1338.5" y="273.5" font-size="11" fill="#fff" font-weight="bold" text-anchor="start" textLength="38" lengthAdjust="spacingAndGlyphs">0.87332</text>
<rect x="1331.5" y="343.0" width="52" height="15" rx="2" fill="#f23645"/>
<text x="1338.5" y="354.5" font-size="11" fill="#fff" font-weight="bold" text-anchor="start" textLength="38" lengthAdjust="spacingAndGlyphs">0.86710</text>
<rect x="1331.5" y="425.5" width="52" height="15" rx="2" fill="#f23645"/>
<text x="1338.5" y="437" font-size="11" fill="#fff" font-weight="bold" text-anchor="start" textLength="38" lengthAdjust="spacingAndGlyphs">0.86088</text>
<rect x="1331.5" y="470" width="56" height="28" rx="2" fill="#000"/>
<text x="1338.5" y="482" font-size="11" fill="#fff" font-weight="bold" text-anchor="start" textLength="38" lengthAdjust="spacingAndGlyphs">0.85751</text>
<text x="1338.5" y="494.5" font-size="11" fill="#d1d4dc" font-weight="bold" text-anchor="start" textLength="44" lengthAdjust="spacingAndGlyphs">01:24:14</text>
<rect x="1331.5" y="539.5" width="52" height="15" rx="2" fill="#1b5e20"/>
<text x="1338.5" y="551" font-size="11" fill="#fff" font-weight="bold" text-anchor="start" textLength="38" lengthAdjust="spacingAndGlyphs">0.85221</text>
<rect x="1331.5" y="577.5" width="52" height="15" rx="2" fill="#1b5e20"/>
<text x="1338.5" y="589" font-size="11" fill="#fff" font-weight="bold" text-anchor="start" textLength="38" lengthAdjust="spacingAndGlyphs">0.84926</text>
<text x="33" y="772" font-size="11" fill="#50535e" font-weight="normal" text-anchor="middle">10</text>
<text x="127" y="772" font-size="11" fill="#50535e" font-weight="normal" text-anchor="middle">17</text>
<text x="220" y="772" font-size="11" fill="#50535e" font-weight="normal" text-anchor="middle">24</text>
<text x="314" y="772" font-size="11" fill="#50535e" font-weight="normal" text-anchor="middle" stroke="#50535e" stroke-width="0.45">May</text>
<text x="408" y="772" font-size="11" fill="#50535e" font-weight="normal" text-anchor="middle">8</text>
<text x="501" y="772" font-size="11" fill="#50535e" font-weight="normal" text-anchor="middle">15</text>
<text x="595" y="772" font-size="11" fill="#50535e" font-weight="normal" text-anchor="middle">22</text>
<text x="742" y="772" font-size="11" fill="#50535e" font-weight="normal" text-anchor="middle" stroke="#50535e" stroke-width="0.45">Jun</text>
<text x="876" y="772" font-size="11" fill="#50535e" font-weight="normal" text-anchor="middle">12</text>
<text x="969" y="772" font-size="11" fill="#50535e" font-weight="normal" text-anchor="middle">19</text>
<text x="1063" y="772" font-size="11" fill="#50535e" font-weight="normal" text-anchor="middle">26</text>
<text x="1155" y="772" font-size="11" fill="#50535e" font-weight="normal" text-anchor="middle" stroke="#50535e" stroke-width="0.45">Jul</text>
<text x="1250" y="772" font-size="11" fill="#50535e" font-weight="normal" text-anchor="middle">10</text>
<path d="M9.3,792.9h6.4v8.9h-2.8v-6.1h-3.6z M22.9,792.9h4.2l-3.2,8.9h-4.3z" fill="#131722"/><circle cx="19.4" cy="794.4" r="1.5" fill="#131722"/>
<text x="31" y="801.8" font-size="12" fill="#3a3d45" font-weight="normal" text-anchor="start" textLength="65" lengthAdjust="spacingAndGlyphs">TradingView</text>
<text x="17" y="43" font-size="11" fill="#6a6d78" font-weight="normal" text-anchor="start" textLength="161" lengthAdjust="spacingAndGlyphs">Euro / British Pound, 4h, OANDA</text>
<text x="185.7" y="43" font-size="11" fill="#3a3d45" font-weight="normal" text-anchor="start" textLength="45.7" lengthAdjust="spacingAndGlyphs">O0.85596</text>
<text x="236.4" y="43" font-size="11" fill="#3a3d45" font-weight="normal" text-anchor="start" textLength="48.6" lengthAdjust="spacingAndGlyphs">H0.85762</text>
<text x="287.5" y="43" font-size="11" fill="#3a3d45" font-weight="normal" text-anchor="start" textLength="48.2" lengthAdjust="spacingAndGlyphs">L0.85552</text>
<text x="342.9" y="43" font-size="11" fill="#3a3d45" font-weight="normal" text-anchor="start" textLength="45.7" lengthAdjust="spacingAndGlyphs">C0.85751</text>
<text x="396.4" y="43" font-size="11" fill="#3a3d45" font-weight="normal" text-anchor="start" textLength="89.3" lengthAdjust="spacingAndGlyphs">+0.00154 (+0.18%)</text>
<text x="17" y="58.1" font-size="11" fill="#6a6d78" font-weight="normal" text-anchor="start" textLength="152.6" lengthAdjust="spacingAndGlyphs">MA · 1D (200, close, 0, SMA, 5)</text>
<text x="176.8" y="58.1" font-size="11" fill="#f57c00" font-weight="normal" text-anchor="start" textLength="39.6" lengthAdjust="spacingAndGlyphs">0.87418</text>
<text x="17" y="73.6" font-size="11" fill="#6a6d78" font-weight="normal" text-anchor="start" textLength="151.8" lengthAdjust="spacingAndGlyphs">SMA · 1D (20, close, 0, SMA, 5)</text>
<text x="176.8" y="73.6" font-size="11" fill="#2962ff" font-weight="normal" text-anchor="start" textLength="39.1" lengthAdjust="spacingAndGlyphs">0.85788</text>
<text x="17" y="615.5" font-size="11" fill="#6a6d78" font-weight="normal" text-anchor="start" textLength="130.3" lengthAdjust="spacingAndGlyphs">RSI (14, close, SMA, 14, 2)</text>
<text x="154.7" y="615.5" font-size="11" fill="#3a3d45" font-weight="normal" text-anchor="start" textLength="27" lengthAdjust="spacingAndGlyphs">45.02</text>
<text x="334" y="69.3" font-size="22" fill="#000" font-weight="normal" text-anchor="start" textLength="68" lengthAdjust="spacingAndGlyphs" stroke="#000" stroke-width="0.5">4-hour</text>
<text x="332" y="87" font-size="21" fill="#0d2a94" font-weight="normal" text-anchor="start" textLength="89.4" lengthAdjust="spacingAndGlyphs" stroke="#0d2e9b" stroke-width="0.5">EUR/GBP</text>
<text x="669.5" y="163.8" font-size="19" fill="#f283ae" font-weight="normal" text-anchor="start" textLength="496" lengthAdjust="spacingAndGlyphs" stroke="#f283ae" stroke-width="0.75">*medium-term descending channel from 3 Feb 2023 high</text>
<text x="748" y="228.7" font-size="19" fill="#f57c00" font-weight="normal" text-anchor="start" textLength="108" lengthAdjust="spacingAndGlyphs" stroke="#f57c00" stroke-width="0.75">*200-day MA</text>
<text x="975.4" y="271.2" font-size="21.5" fill="#f0223b" font-weight="normal" text-anchor="start" textLength="71.8" lengthAdjust="spacingAndGlyphs" stroke="#f0223b" stroke-width="0.6">0.8730</text>
<text x="925" y="306" font-size="21.5" fill="#f0223b" font-weight="normal" text-anchor="start" textLength="71.8" lengthAdjust="spacingAndGlyphs" stroke="#f0223b" stroke-width="0.6">0.8670</text>
<text x="1045" y="365.7" font-size="18" fill="#000" font-weight="normal" text-anchor="start" textLength="191" lengthAdjust="spacingAndGlyphs" stroke="#000" stroke-width="0.35">0.8658 ~ 28 Jun 2023</text>
<text x="882" y="384.6" font-size="19" fill="#2f3fe0" font-weight="normal" text-anchor="start" textLength="98.7" lengthAdjust="spacingAndGlyphs" stroke="#2f3fe0" stroke-width="0.4">*20-day MA</text>
<text x="210" y="420.2" font-size="19" fill="#555864" font-weight="normal" text-anchor="start" textLength="478.7" lengthAdjust="spacingAndGlyphs" stroke="#555864" stroke-width="0.75">* former major trendline support since 7 Mar 2022 low</text>
<text x="1144.5" y="430" font-size="22.5" fill="#f0223b" font-weight="normal" text-anchor="start" textLength="178.3" lengthAdjust="spacingAndGlyphs" stroke="#f0223b" stroke-width="0.5">0.8610 (ST pivot)</text>
<text x="782" y="559.3" font-size="19" fill="#ee4a84" font-weight="normal" text-anchor="start" textLength="175" lengthAdjust="spacingAndGlyphs" stroke="#ee4a84" stroke-width="0.75">*corrective rebound</text>
<text x="1078" y="543.3" font-size="22" fill="#0f5214" font-weight="normal" text-anchor="start" textLength="72.4" lengthAdjust="spacingAndGlyphs" stroke="#0f5214" stroke-width="0.7">0.8520</text>
<text x="1071.5" y="586" font-size="22" fill="#0f5214" font-weight="normal" text-anchor="start" textLength="72.5" lengthAdjust="spacingAndGlyphs" stroke="#0f5214" stroke-width="0.7">0.8490</text>
</svg></body></html>
